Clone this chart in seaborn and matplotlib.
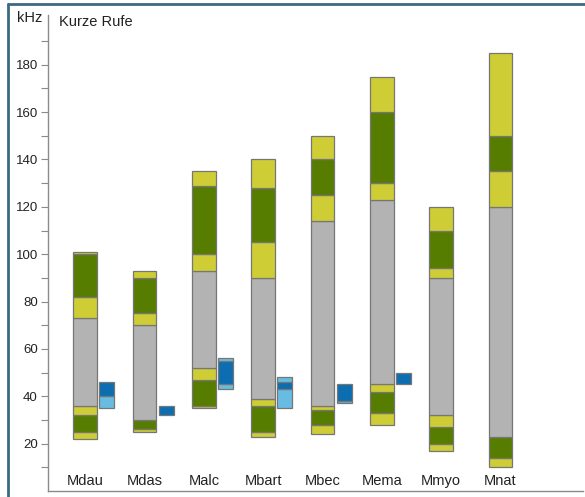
import numpy as np
import pandas as pd
import matplotlib
matplotlib.use("Agg")
import matplotlib.pyplot as plt
from matplotlib.lines import Line2D
from matplotlib.ticker import MultipleLocator, FixedLocator
import seaborn as sns

# Species (short codes) and frequency band boundaries of short calls, in kHz
species = ["Mdau", "Mdas", "Malc", "Mbart", "Mbec", "Mema", "Mmyo", "Mnat"]
yellow_low_lo = [22, 25, 35, 23, 24, 28, 17, 10]
green_low_lo = [25, 26, 36, 25, 28, 33, 20, 14]
yellow_mid_lo = [32, 30, 47, 36, 34, 42, 27, 23]
gray_lo = [36, 30, 52, 39, 36, 45, 32, 23]
gray_hi = [73, 70, 93, 90, 114, 123, 90, 120]
green_high_lo = [82, 75, 100, 105, 125, 130, 94, 135]
yellow_top_lo = [100, 90, 129, 128, 140, 160, 110, 150]
band_top = [101, 93, 135, 140, 150, 175, 120, 185]

# Peak-frequency ranges (blue) for the species that have them
peak_species = ["Mdau", "Mdas", "Malc", "Mbart", "Mbec", "Mema"]
peak_light_lo = [35, 32, 43, 35, 37, 45]
peak_dark_lo = [40, 32, 45, 43, 38, 45]
peak_dark_hi = [46, 36, 55, 46, 45, 50]
peak_top = [46, 36, 56, 48, 45, 50]

YELLOW = "#cfcd35"
GREEN = "#567d00"
GRAY = "#b3b3b3"
DARK_BLUE = "#0c6eb0"
LIGHT_BLUE = "#68bce1"
EDGE = "#767676"
FRAME = "#3c6a84"

sns.set_theme(style="white")
plt.rcParams["font.family"] = ["Liberation Sans", "DejaVu Sans"]

fig = plt.figure(figsize=(5.85, 4.97), dpi=100)
ax = fig.add_axes([47.5 / 585, 6 / 497, (583 - 47.5) / 585, (491 - 15) / 497])

pos = np.arange(len(species), dtype=float)
layers = [
    (yellow_low_lo, green_low_lo, YELLOW),
    (green_low_lo, yellow_mid_lo, GREEN),
    (yellow_mid_lo, gray_lo, YELLOW),
    (gray_lo, gray_hi, GRAY),
    (gray_hi, green_high_lo, YELLOW),
    (green_high_lo, yellow_top_lo, GREEN),
    (yellow_top_lo, band_top, YELLOW),
]


def draw_layer(x, lo, hi, color, width):
    df = pd.DataFrame({"x": x, "lo": lo, "hi": hi})
    df["h"] = df["hi"] - df["lo"]
    df = df[df["h"] > 0]
    if df.empty:
        return
    sns.barplot(data=df, x="x", y="h", bottom=df["lo"].to_numpy(),
                native_scale=True, orient="x", width=width, color=color,
                saturation=1, edgecolor=EDGE, linewidth=0.9, ax=ax)


for lo, hi, color in layers:
    draw_layer(pos, lo, hi, color, 0.4)

peak_pos = np.array([species.index(s) for s in peak_species], dtype=float) + 0.365
draw_layer(peak_pos, peak_light_lo, peak_dark_lo, LIGHT_BLUE, 0.25)
draw_layer(peak_pos, peak_dark_lo, peak_dark_hi, DARK_BLUE, 0.25)
draw_layer(peak_pos, peak_dark_hi, peak_top, LIGHT_BLUE, 0.25)

ax.set_xlim(-0.635, 8.39)
ax.set_ylim(0, 201)
ax.set_xlabel("")
ax.set_ylabel("")
ax.set_xticks([])
ax.yaxis.set_major_locator(FixedLocator(np.arange(20, 181, 20)))
ax.yaxis.set_minor_locator(FixedLocator(np.arange(10, 191, 20)))
ax.tick_params(axis="y", which="both", direction="out", length=5, width=0.8,
               color="#8a8a8a", labelsize=9.5, labelcolor="#222222", pad=2,
               left=True)
ax.tick_params(axis="y", which="minor", labelleft=False)
for side in ["top", "right"]:
    ax.spines[side].set_visible(False)
for side in ["left", "bottom"]:
    ax.spines[side].set_color("#8a8a8a")
    ax.spines[side].set_linewidth(1.0)

for x, name in zip(pos, species):
    ax.text(x, 4.2, name, ha="center", va="center", fontsize=10.5, color="#222222")

fig.text(17 / 585, 1 - 18 / 497, "kHz", ha="left", va="center", fontsize=10.5, color="#222222")
fig.text(59 / 585, 1 - 22 / 497, "Kurze Rufe", ha="left", va="center", fontsize=10.5, color="#222222")

# frame lines along the left and top edges
fig.add_artist(Line2D([8 / 585, 8 / 585], [0, 1 - 4 / 497], color=FRAME, lw=2, transform=fig.transFigure))
fig.add_artist(Line2D([8 / 585, 1], [1 - 4 / 497, 1 - 4 / 497], color=FRAME, lw=2, transform=fig.transFigure))

fig.savefig("out.png", dpi=100)
